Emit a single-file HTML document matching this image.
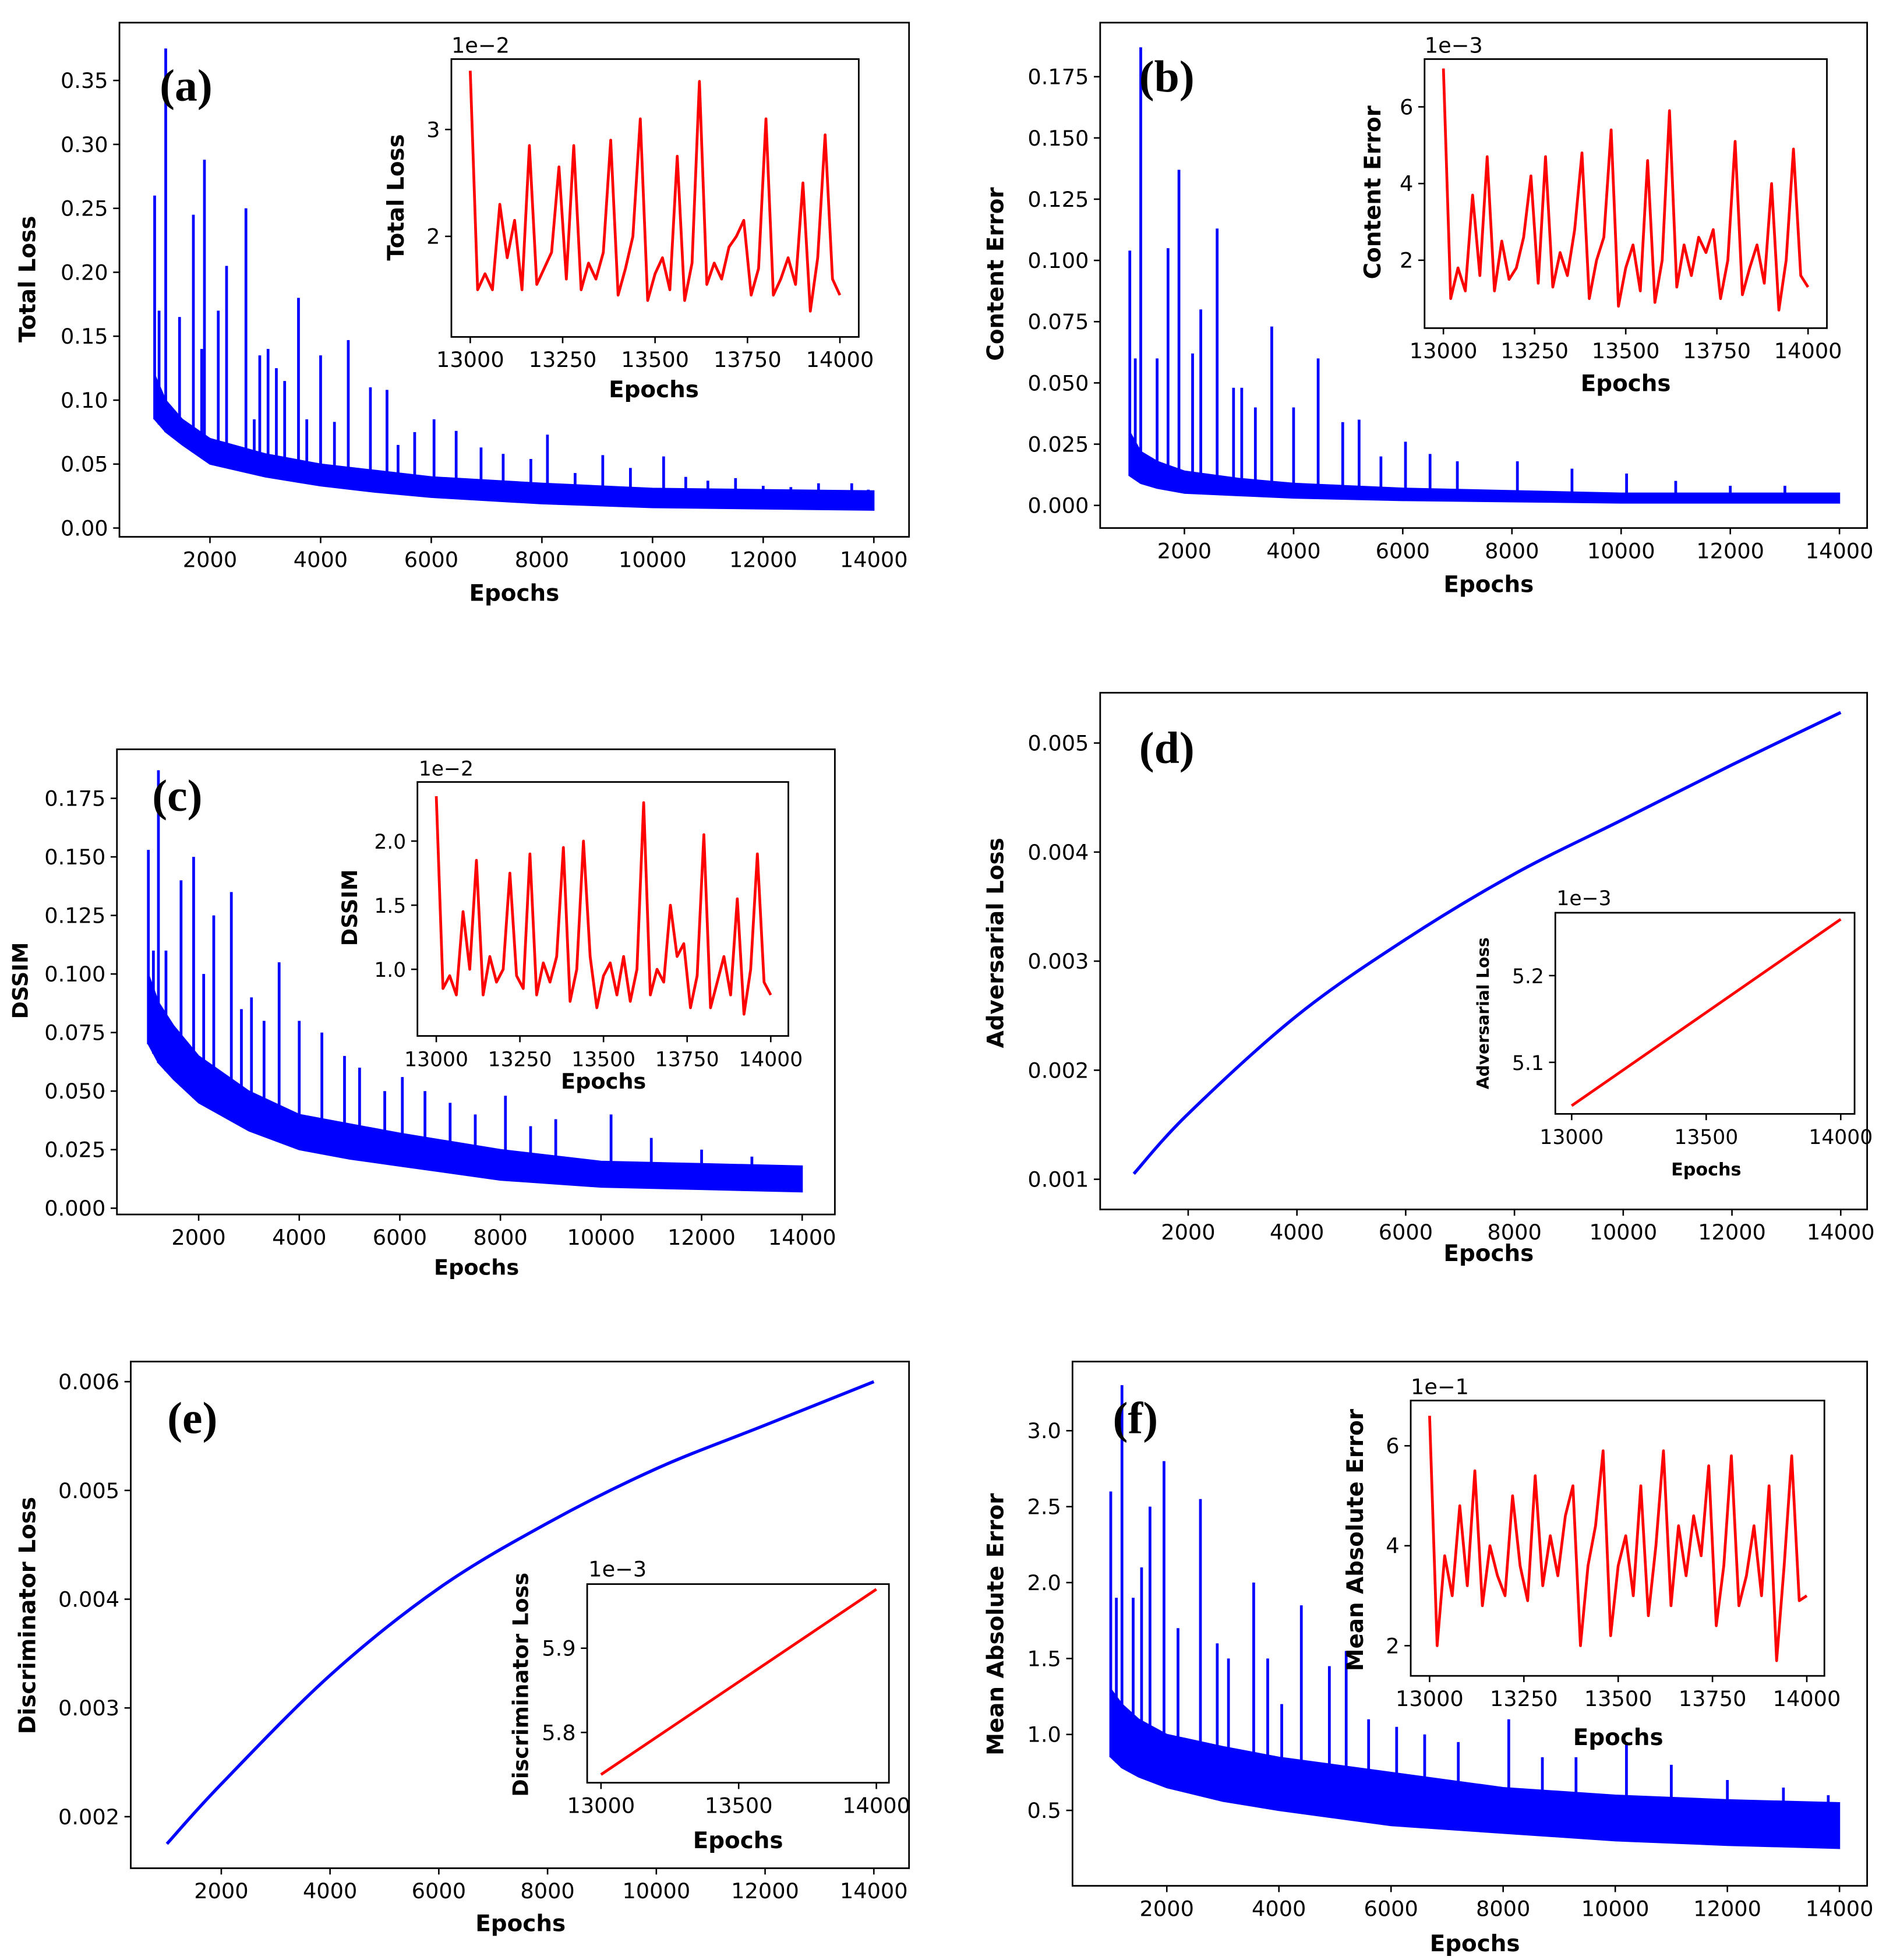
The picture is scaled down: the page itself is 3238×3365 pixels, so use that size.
<!DOCTYPE html>
<html><head><meta charset="utf-8"><style>
html,body{margin:0;padding:0;background:#fff}
svg{display:block}
text{font-family:"DejaVu Sans","Liberation Sans",sans-serif;fill:#000}
.pl{font-family:"Liberation Serif",serif;font-size:36px;font-weight:bold}
</style></head><body>
<svg id="fig" width="3238" height="3365" viewBox="0 0 1500 1559" preserveAspectRatio="none" xmlns="http://www.w3.org/2000/svg"></svg>
<script>
// ---- data ----
const mainXTicks=[2000,4000,6000,8000,10000,12000,14000];
const bandEpochs=[1000,1200,1500,2000,3000,4000,5000,6000,8000,10000,12000,14000];
const lossLow=[0.085,0.075,0.065,0.05,0.04,0.033,0.028,0.024,0.019,0.016,0.015,0.014];
const lossHigh=[0.12,0.1,0.085,0.07,0.058,0.05,0.045,0.04,0.035,0.031,0.03,0.029];
const lossSpikeEp=[1000,1080,1200,1450,1700,1850,1900,2150,2300,2650,2800,2900,3050,3200,3350,3600,3750,4000,4250,4500,4900,5200,5400,5700,6050,6450,6900,7300,7800,8100,8600,9100,9600,10200,10600,11000,11500,12000,12500,13000,13600,13900];
const lossSpikeVal=[0.26,0.17,0.375,0.165,0.245,0.14,0.288,0.17,0.205,0.25,0.085,0.135,0.14,0.125,0.115,0.18,0.085,0.135,0.083,0.147,0.11,0.108,0.065,0.075,0.085,0.076,0.063,0.058,0.054,0.073,0.043,0.057,0.047,0.056,0.04,0.037,0.039,0.033,0.032,0.035,0.035,0.03];
const contLow=[0.012,0.009,0.007,0.005,0.004,0.003,0.0025,0.002,0.0015,0.001,0.001,0.001];
const contHigh=[0.03,0.022,0.018,0.014,0.011,0.009,0.008,0.007,0.006,0.005,0.005,0.005];
const contSpikeEp=[1000,1100,1200,1500,1700,1900,2150,2300,2600,2900,3050,3300,3600,4000,4450,4900,5200,5600,6050,6500,7000,8100,9100,10100,11000,12000,13000];
const contSpikeVal=[0.104,0.06,0.187,0.06,0.105,0.137,0.062,0.08,0.113,0.048,0.048,0.04,0.073,0.04,0.06,0.034,0.035,0.02,0.026,0.021,0.018,0.018,0.015,0.013,0.01,0.008,0.008];
const dssimLow=[0.07,0.062,0.055,0.045,0.033,0.025,0.021,0.018,0.012,0.009,0.008,0.007];
const dssimHigh=[0.1,0.088,0.078,0.065,0.05,0.04,0.036,0.032,0.025,0.02,0.019,0.018];
const dssimSpikeEp=[1000,1100,1200,1350,1650,1900,2100,2300,2650,2850,3050,3300,3600,4000,4450,4900,5200,5700,6050,6500,7000,7500,8100,8600,9100,10200,11000,12000,13000];
const dssimSpikeVal=[0.153,0.11,0.187,0.11,0.14,0.15,0.1,0.125,0.135,0.085,0.09,0.08,0.105,0.08,0.075,0.065,0.06,0.05,0.056,0.05,0.045,0.04,0.048,0.035,0.038,0.04,0.03,0.025,0.022];
const maeLow=[0.85,0.78,0.72,0.65,0.56,0.5,0.45,0.4,0.35,0.3,0.27,0.25];
const maeHigh=[1.3,1.2,1.1,1.0,0.92,0.85,0.8,0.75,0.65,0.6,0.57,0.55];
const maeSpikeEp=[1000,1100,1200,1400,1550,1700,1950,2200,2600,2900,3100,3550,3800,4050,4400,4900,5200,5600,6100,6600,7200,8100,8700,9300,10200,11000,12000,13000,13800];
const maeSpikeVal=[2.6,1.9,3.3,1.9,2.1,2.5,2.8,1.7,2.55,1.6,1.5,2.0,1.5,1.2,1.85,1.45,1.55,1.1,1.05,1.0,0.95,1.1,0.85,0.85,0.95,0.8,0.7,0.65,0.6];
const advEp=[1000,2000,4000,6000,8000,10000,12000,14000];
const advVal=[0.00105,0.0016,0.0025,0.0032,0.0038,0.0043,0.0048,0.00528];
const discVal=[0.00175,0.0023,0.0033,0.0041,0.0047,0.0052,0.0056,0.006];
const insetEp=[13000,13020,13040,13060,13080,13100,13120,13140,13160,13180,13200,13220,13240,13260,13280,13300,13320,13340,13360,13380,13400,13420,13440,13460,13480,13500,13520,13540,13560,13580,13600,13620,13640,13660,13680,13700,13720,13740,13760,13780,13800,13820,13840,13860,13880,13900,13920,13940,13960,13980,14000];
const insetLoss=[3.55,1.5,1.65,1.5,2.3,1.8,2.15,1.5,2.85,1.55,1.7,1.85,2.65,1.6,2.85,1.5,1.75,1.6,1.85,2.9,1.45,1.7,2.0,3.1,1.4,1.65,1.8,1.5,2.75,1.4,1.75,3.45,1.55,1.75,1.6,1.9,2.0,2.15,1.45,1.7,3.1,1.45,1.6,1.8,1.55,2.5,1.3,1.8,2.95,1.6,1.45];
const insetCont=[7.0,1.0,1.8,1.2,3.7,1.6,4.7,1.2,2.5,1.5,1.8,2.6,4.2,1.4,4.7,1.3,2.2,1.6,2.8,4.8,1.0,2.0,2.6,5.4,0.8,1.8,2.4,1.2,4.6,0.9,2.0,5.9,1.3,2.4,1.6,2.6,2.2,2.8,1.0,2.0,5.1,1.1,1.8,2.4,1.4,4.0,0.7,2.0,4.9,1.6,1.3];
const insetDssim=[2.35,0.85,0.95,0.8,1.45,1.0,1.85,0.8,1.1,0.9,1.0,1.75,0.95,0.85,1.9,0.8,1.05,0.9,1.1,1.95,0.75,1.0,2.0,1.1,0.7,0.95,1.05,0.8,1.1,0.75,1.0,2.3,0.8,1.0,0.9,1.5,1.1,1.2,0.7,0.95,2.05,0.7,0.9,1.1,0.8,1.55,0.65,1.0,1.9,0.9,0.8];
const insetMae=[6.6,2.0,3.8,3.0,4.8,3.2,5.5,2.8,4.0,3.4,3.0,5.0,3.6,2.9,5.4,3.2,4.2,3.4,4.6,5.2,2.0,3.6,4.4,5.9,2.2,3.6,4.2,3.0,5.2,2.6,4.0,5.9,2.8,4.4,3.4,4.6,3.8,5.6,2.4,3.6,5.8,2.8,3.4,4.4,3.0,5.2,1.7,3.6,5.8,2.9,3.0];
const linInsetEp=[13000,14000];
const advInsetVal=[5.05,5.265];
const discInsetVal=[5.75,5.97];

// ---- drawing ----
const NS='http://www.w3.org/2000/svg';
const svg=document.getElementById('fig');
function mk(tag,attrs,parent,txt){const e=document.createElementNS(NS,tag);for(const k in attrs)e.setAttribute(k,attrs[k]);if(txt!==undefined)e.textContent=txt;(parent||svg).appendChild(e);return e;}
function lin(v0,p0,v1,p1){return v=>p0+(v-v0)*(p1-p0)/(v1-v0);}
function axes(g,c){
  const [x0,y0,x1,y1]=c.box;
  const f=mk('rect',{x:x0,y:y0,width:x1-x0,height:y1-y0,fill:'#fff',stroke:'#000','stroke-width':1.3},g);
  
  
  c.xticks.forEach((t,i)=>{const x=c.xs(t);
    mk('line',{x1:x,x2:x,y1:y1,y2:y1+5,stroke:'#000','stroke-width':1.2},g);
    const e=mk('text',{x:x,y:y1+24,'text-anchor':'middle','font-size':c.fs},g,(c.xlab||c.xticks)[i]);
    
    });
  c.yticks.forEach((t,i)=>{const y=c.ys(t);
    mk('line',{x1:x0-5,x2:x0,y1:y,y2:y,stroke:'#000','stroke-width':1.2},g);
    const e=mk('text',{x:x0-9,y:y+6,'text-anchor':'end','font-size':c.fs},g,c.ylab[i]);
    
    });
}
function label(g,txt,x,y,rot,fs,name){
  const e=mk('text',{x:x,y:y,'text-anchor':'middle','font-size':fs,'font-weight':'bold',transform:rot?`rotate(-90 ${x} ${y})`:''},g,txt);
  
  
}
function band(g,xs,ys,low,high,sx,sv,name){
  let d='';bandEpochs.forEach((e,i)=>{d+=(i?'L':'M')+xs(e)+' '+ys(high[i]);});
  for(let i=bandEpochs.length-1;i>=0;i--)d+='L'+xs(bandEpochs[i])+' '+ys(low[i]);
  const p=mk('path',{d:d+'Z',fill:'#0000ff',stroke:'#0000ff','stroke-width':1},g);
  
  
  const lowAt=e=>{for(let i=1;i<bandEpochs.length;i++)if(e<=bandEpochs[i])return low[i-1]+(low[i]-low[i-1])*(e-bandEpochs[i-1])/(bandEpochs[i]-bandEpochs[i-1]);return low[low.length-1];};
  sx.forEach((e,i)=>{const l=mk('line',{x1:xs(e),x2:xs(e),y1:ys(lowAt(e)),y2:ys(sv[i]),stroke:'#0000ff','stroke-width':2.2},g);
    
    });
}
function line(g,xs,ys,ex,vals,color,w,name){
  const n=Math.min(ex.length,vals.length);let d='';
  for(let i=0;i<n;i++)d+=(i?'L':'M')+xs(ex[i]).toFixed(2)+' '+ys(vals[i]).toFixed(2);
  const p=mk('path',{d:d,fill:'none',stroke:color,'stroke-width':w,'stroke-linejoin':'round'},g);
  
  
}
function smooth(g,xs,ys,ex,vals,color,w,name){
  const P=ex.map((e,i)=>[xs(e),ys(vals[i])]);
  let d='M'+P[0][0]+' '+P[0][1];
  for(let i=0;i<P.length-1;i++){
    const p0=P[Math.max(0,i-1)],p1=P[i],p2=P[i+1],p3=P[Math.min(P.length-1,i+2)];
    const c1=[p1[0]+(p2[0]-p0[0])/6,p1[1]+(p2[1]-p0[1])/6];
    const c2=[p2[0]-(p3[0]-p1[0])/6,p2[1]-(p3[1]-p1[1])/6];
    d+='C'+c1[0].toFixed(2)+' '+c1[1].toFixed(2)+' '+c2[0].toFixed(2)+' '+c2[1].toFixed(2)+' '+p2[0].toFixed(2)+' '+p2[1].toFixed(2);
  }
  const p=mk('path',{d:d,fill:'none',stroke:color,'stroke-width':w},g);
  
  
}
function grp(name){const g=mk('g',{});return g;}
function mainAx(g,name,box,xa,xb,ya,yb,yt,yl){const xs=lin(2000,xa,14000,xb),ys=lin(yt[0],ya,yt[yt.length-1],yb);
  axes(g,{name:name,box:box,xs:xs,ys:ys,xticks:mainXTicks,yticks:yt,ylab:yl,fs:17});return [xs,ys];}

// (a)
{const g=grp('panel-a-total-loss');
 const [xs,ys]=mainAx(g,'main-a',[95,18,723,427],167,695,420,64,[0,0.05,0.1,0.15,0.2,0.25,0.3,0.35],['0.00','0.05','0.10','0.15','0.20','0.25','0.30','0.35']);
 band(g,xs,ys,lossLow,lossHigh,lossSpikeEp,lossSpikeVal,'total-loss');
 label(g,'Epochs',409,478,false,18,'x-axis-title-a');label(g,'Total Loss',28,222,true,18,'y-axis-title-a');
 const pl=mk('text',{x:148,y:80,'text-anchor':'middle',class:'pl'},g,'(a)');
 const ix=lin(13000,374,14000,668),iy=lin(2,188,3,103);
 axes(g,{name:'inset-a',box:[359,47,683,268],xs:ix,ys:iy,xticks:[13000,13250,13500,13750,14000],yticks:[2,3],ylab:['2','3'],fs:17});
 line(g,ix,iy,insetEp,insetLoss,'#ff0000',2.2,'inset-total-loss-line');
 mk('text',{x:359,y:42,'font-size':17},g,'1e\u22122');
 label(g,'Total Loss',321,157,true,18,'inset-y-title-a');label(g,'Epochs',520,316,false,18,'inset-x-title-a');}
// (b)
{const g=grp('panel-b-content-error');
 const [xs,ys]=mainAx(g,'main-b',[875,18,1485,420],942,1463,402,61,[0,0.025,0.05,0.075,0.1,0.125,0.15,0.175],['0.000','0.025','0.050','0.075','0.100','0.125','0.150','0.175']);
 band(g,xs,ys,contLow,contHigh,contSpikeEp,contSpikeVal,'content-error');
 label(g,'Epochs',1184,471,false,18,'x-axis-title-b');label(g,'Content Error',798,218,true,18,'y-axis-title-b');
 const pl=mk('text',{x:928,y:73,'text-anchor':'middle',class:'pl'},g,'(b)');
 const ix=lin(13000,1148,14000,1438),iy=lin(2,207,6,85);
 axes(g,{name:'inset-b',box:[1133,47,1453,261],xs:ix,ys:iy,xticks:[13000,13250,13500,13750,14000],yticks:[2,4,6],ylab:['2','4','6'],fs:17});
 line(g,ix,iy,insetEp,insetCont,'#ff0000',2.2,'inset-content-error-line');
 mk('text',{x:1133,y:42,'font-size':17},g,'1e\u22123');
 label(g,'Content Error',1098,153,true,18,'inset-y-title-b');label(g,'Epochs',1293,311,false,18,'inset-x-title-b');}
// (c)
{const g=grp('panel-c-dssim');
 const [xs,ys]=mainAx(g,'main-c',[93,596,664,966],158,638,961,635,[0,0.025,0.05,0.075,0.1,0.125,0.15,0.175],['0.000','0.025','0.050','0.075','0.100','0.125','0.150','0.175']);
 band(g,xs,ys,dssimLow,dssimHigh,dssimSpikeEp,dssimSpikeVal,'dssim');
 label(g,'Epochs',379,1014,false,17,'x-axis-title-c');label(g,'DSSIM',22,780,true,17,'y-axis-title-c');
 const pl=mk('text',{x:141,y:645,'text-anchor':'middle',class:'pl'},g,'(c)');
 const ix=lin(13000,347,14000,613),iy=lin(1,771,2,669);
 axes(g,{name:'inset-c',box:[332,622,627,824],xs:ix,ys:iy,xticks:[13000,13250,13500,13750,14000],yticks:[1,1.5,2],ylab:['1.0','1.5','2.0'],fs:16});
 line(g,ix,iy,insetEp,insetDssim,'#ff0000',2.2,'inset-dssim-line');
 mk('text',{x:333,y:617,'font-size':16},g,'1e\u22122');
 label(g,'DSSIM',284,722,true,17,'inset-y-title-c');label(g,'Epochs',480,866,false,17,'inset-x-title-c');}
// (d)
{const g=grp('panel-d-adversarial-loss');
 const [xs,ys]=mainAx(g,'main-d',[875,551,1485,962],945,1464,938,591,[0.001,0.002,0.003,0.004,0.005],['0.001','0.002','0.003','0.004','0.005']);
 smooth(g,xs,ys,advEp,advVal,'#0000ff',2.5,'adversarial-loss-line');
 label(g,'Epochs',1184,1003,false,18,'x-axis-title-d');label(g,'Adversarial Loss',798,750,true,18,'y-axis-title-d');
 const pl=mk('text',{x:928,y:607,'text-anchor':'middle',class:'pl'},g,'(d)');
 const ix=lin(13000,1250,14000,1464),iy=lin(5.1,845,5.2,776);
 axes(g,{name:'inset-d',box:[1237,726,1475,886],xs:ix,ys:iy,xticks:[13000,13500,14000],yticks:[5.1,5.2],ylab:['5.1','5.2'],fs:16});
 line(g,ix,iy,linInsetEp,advInsetVal,'#ff0000',2.2,'inset-adversarial-loss-line');
 mk('text',{x:1238,y:720,'font-size':16},g,'1e\u22123');
 label(g,'Adversarial Loss',1184,806,true,13,'inset-y-title-d');label(g,'Epochs',1357,935,false,14,'inset-x-title-d');}
// (e)
{const g=grp('panel-e-discriminator-loss');
 const [xs,ys]=mainAx(g,'main-e',[104,1083,723,1486],176,695,1445,1099,[0.002,0.003,0.004,0.005,0.006],['0.002','0.003','0.004','0.005','0.006']);
 smooth(g,xs,ys,advEp,discVal,'#0000ff',2.5,'discriminator-loss-line');
 label(g,'Epochs',414,1536,false,18,'x-axis-title-e');label(g,'Discriminator Loss',28,1285,true,18,'y-axis-title-e');
 const pl=mk('text',{x:153,y:1140,'text-anchor':'middle',class:'pl'},g,'(e)');
 const ix=lin(13000,478,14000,697),iy=lin(5.8,1378,5.9,1311);
 axes(g,{name:'inset-e',box:[467,1260,707,1418],xs:ix,ys:iy,xticks:[13000,13500,14000],yticks:[5.8,5.9],ylab:['5.8','5.9'],fs:17});
 line(g,ix,iy,linInsetEp,discInsetVal,'#ff0000',2.2,'inset-discriminator-loss-line');
 mk('text',{x:468,y:1254,'font-size':17},g,'1e\u22123');
 label(g,'Discriminator Loss',420,1340,true,17,'inset-y-title-e');label(g,'Epochs',587,1470,false,18,'inset-x-title-e');}
// (f)
{const g=grp('panel-f-mae');
 const [xs,ys]=mainAx(g,'main-f',[853,1083,1485,1500],928,1463,1440,1138,[0.5,1,1.5,2,2.5,3],['0.5','1.0','1.5','2.0','2.5','3.0']);
 band(g,xs,ys,maeLow,maeHigh,maeSpikeEp,maeSpikeVal,'mae');
 label(g,'Epochs',1173,1552,false,18,'x-axis-title-f');label(g,'Mean Absolute Error',798,1292,true,18,'y-axis-title-f');
 const pl=mk('text',{x:903,y:1140,'text-anchor':'middle',class:'pl'},g,'(f)');
 const ix=lin(13000,1137,14000,1437),iy=lin(2,1309,6,1150);
 axes(g,{name:'inset-f',box:[1122,1114,1451,1333],xs:ix,ys:iy,xticks:[13000,13250,13500,13750,14000],yticks:[2,4,6],ylab:['2','4','6'],fs:17});
 line(g,ix,iy,insetEp,insetMae,'#ff0000',2.2,'inset-mae-line');
 mk('text',{x:1122,y:1109,'font-size':17},g,'1e\u22121');
 label(g,'Mean Absolute Error',1084,1225,true,18,'inset-y-title-f');label(g,'Epochs',1287,1388,false,18,'inset-x-title-f');}
</script>
</body></html>
